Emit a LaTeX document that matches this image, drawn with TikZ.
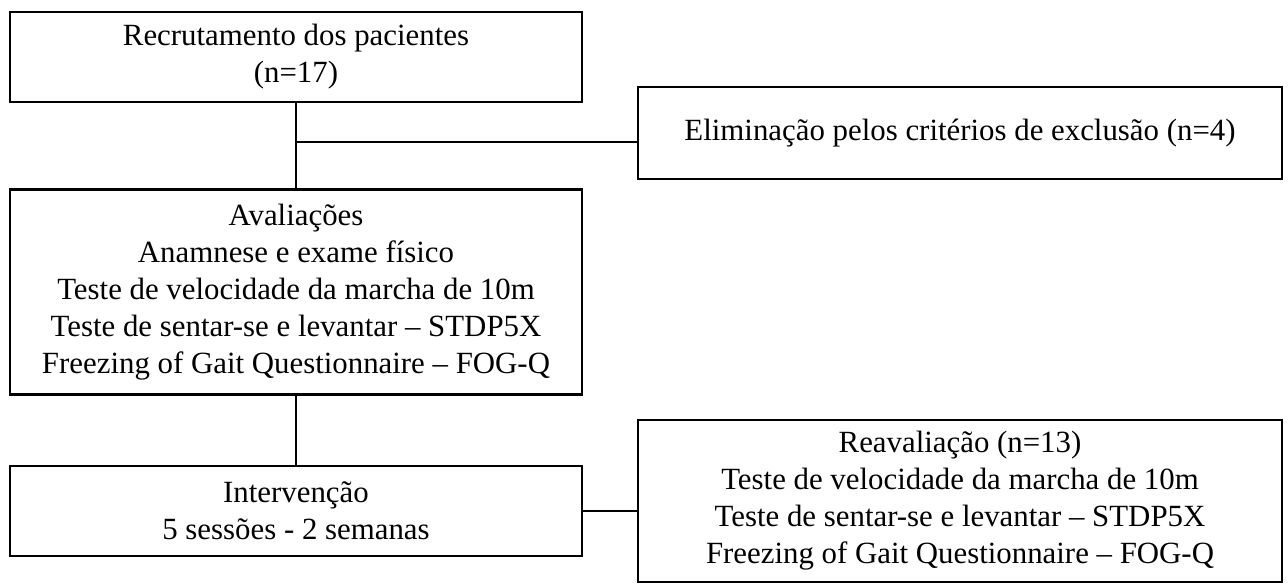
\documentclass[tikz,border=0pt]{standalone}
\usepackage{fontspec}
\setmainfont{Liberation Serif}
\newdimen\pxu
\pxu=0.389pt
\begin{document}
\begin{tikzpicture}[x=\pxu, y=-\pxu, font=\fontsize{12}{14.4}\selectfont]
        \tikzstyle{block} = [rectangle, draw=black, line width=0.8pt, align=center,
                            inner sep=0pt, minimum width=572\pxu]
        \tikzstyle{link} = [line width=0.45pt]
        \useasboundingbox (0,0) rectangle (1288,587);

        % Blocos da coluna principal
        \node[block, minimum height=90\pxu] (recrut) at (296,57) {Recrutamento dos pacientes\\(n=17)};
        \node[block, minimum height=205\pxu] (aval) at (296,292) {Avaliações\\Anamnese e exame físico\\Teste de velocidade da marcha de 10m\\Teste de sentar-se e levantar -- STDP5X\\Freezing of Gait Questionnaire -- FOG-Q};
        \node[block, minimum height=90\pxu] (interv) at (296,511) {Intervenção\\5 sessões - 2 semanas};

        % Blocos laterais
        \node[block, minimum width=644\pxu, minimum height=92\pxu] (elim) at (960,133) {Eliminação pelos critérios de exclusão (n=4)};
        \node[block, minimum width=644\pxu, minimum height=162\pxu] (reav) at (960,501) {Reavaliação (n=13)\\Teste de velocidade da marcha de 10m\\Teste de sentar-se e levantar -- STDP5X\\Freezing of Gait Questionnaire -- FOG-Q};

        % Linhas
        \coordinate (split) at (296,142);
        \draw[link] (recrut) -- (aval);
        \draw[link] (split) -- (split -| elim.west);
        \draw[link] (aval) -- (interv);
        \draw[link] (interv.east) -- (interv.east -| reav.west);
    \end{tikzpicture}
\end{document}
